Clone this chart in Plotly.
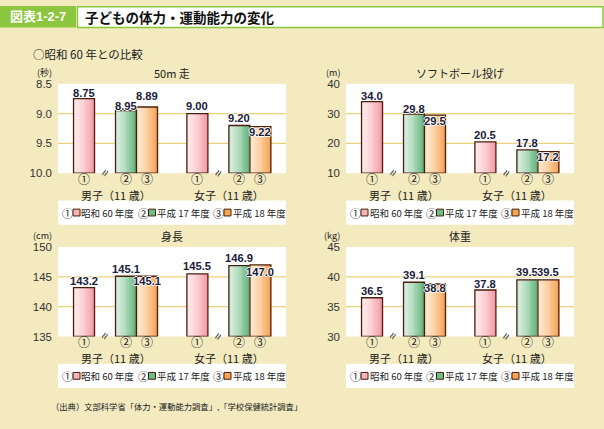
import plotly.graph_objects as go

W, H = 604, 429

# ---------------- data ----------------
groups = ["男子（11 歳）", "女子（11 歳）"]
series_names = ["昭和 60 年度", "平成 17 年度", "平成 18 年度"]
circled = ["①", "②", "③"]

run50_boys = [8.75, 8.95, 8.89]
run50_girls = [9.00, 9.20, 9.22]
softball_boys = [34.0, 29.8, 29.5]
softball_girls = [20.5, 17.8, 17.2]
height_boys = [143.2, 145.1, 145.1]
height_girls = [145.5, 146.9, 147.0]
weight_boys = [36.5, 39.1, 38.8]
weight_girls = [37.8, 39.5, 39.5]

run50_ticks = [8.5, 9.0, 9.5, 10.0]
softball_ticks = [10, 20, 30, 40]
height_ticks = [135, 140, 145, 150]
weight_ticks = [30, 35, 40, 45]

# ---------------- style ----------------
BG = "#f3eabf"
GREEN = "#8cc63e"
GRID = "#ebd27a"
EDGE = "#4a1e0a"
TXT = "#222222"
VAL = "#1b1b3b"
JP = "Noto Sans CJK JP"
LAT = "Liberation Sans, Noto Sans CJK JP"

grad = [((255, 233, 233), (242, 150, 165)),
        ((216, 238, 222), (88, 176, 116)),
        ((254, 232, 206), (245, 158, 78))]
legend_fill = ["#f6b2bb", "#6dbd86", "#f6a552"]

slot = [0, 2, 3]
group_gap = 5.4
XR = [-1.24, 9.62]

def X(px):
    return px / W

def Y(py):
    return 1 - py / H

panels = [
    dict(title="50m 走", unit="(秒)", boys=run50_boys, girls=run50_girls, ticks=run50_ticks,
         rng=[10.0, 8.5], base=10.0, dec=2, fmt=["8.5", "9.0", "9.5", "10.0"],
         x0=58, x1=286, y0=80, y1=172, shifts=[6, 5, 11, 8, 7, -5]),
    dict(title="ソフトボール投げ", unit="(m)", boys=softball_boys, girls=softball_girls, ticks=softball_ticks,
         rng=[10, 40], base=10, dec=1, fmt=None,
         x0=346, x1=574, y0=80, y1=172, shifts=[6, 5, -6, 7, 7, -5]),
    dict(title="身長", unit="(cm)", boys=height_boys, girls=height_girls, ticks=height_ticks,
         rng=[135, 150], base=135, dec=1, fmt=None,
         x0=58, x1=286, y0=248, y1=340, shifts=[7, 7, -5, 8, 8, -7]),
    dict(title="体重", unit="(kg)", boys=weight_boys, girls=weight_girls, ticks=weight_ticks,
         rng=[30, 45], base=30, dec=1, fmt=None,
         x0=346, x1=574, y0=248, y1=340, shifts=[7, 7, -4, 6, 8, 8]),
]

fig = go.Figure()
shapes = []
ann = []

def pann(px, py, text, size, family=JP, color=TXT, xanchor="center"):
    ann.append(dict(x=X(px), y=Y(py), xref="paper", yref="paper", text=text, showarrow=False,
                    xanchor=xanchor, yanchor="middle", borderpad=0,
                    font=dict(family=family, size=size, color=color)))

N = 12
for i, p in enumerate(panels):
    sfx = "" if i == 0 else str(i + 1)
    xa, ya = "x" + sfx, "y" + sfx
    base = p["base"]
    for s in range(3):
        xs = [g * group_gap + slot[s] for g in range(2)]
        vals = [p["boys"][s], p["girls"][s]]
        ys = [v - base for v in vals]
        c0, c1 = grad[s]
        for k in range(N):
            t = ((k + 0.5) / N) ** 1.6
            col = "rgb(%d,%d,%d)" % tuple(round(c0[j] + (c1[j] - c0[j]) * t) for j in range(3))
            fig.add_trace(go.Bar(x=xs, y=ys, base=base, width=1.0 / N + 0.005, offset=-0.5 + k / N,
                                 marker=dict(color=col, line=dict(width=0)),
                                 xaxis=xa, yaxis=ya, hoverinfo="skip", showlegend=False))
        fig.add_trace(go.Bar(x=xs, y=ys, base=base, width=1.0, offset=-0.5,
                             marker=dict(color="rgba(0,0,0,0)", line=dict(color=EDGE, width=1.3)),
                             xaxis=xa, yaxis=ya, hoverinfo="skip", showlegend=False))
        for g in range(2):
            ann.append(dict(x=xs[g], y=vals[g], xref=xa, yref=ya,
                            text=f"<b>{vals[g]:.{p['dec']}f}</b>", showarrow=False,
                            yshift=p["shifts"][g * 3 + s], xanchor="center", yanchor="middle",
                            borderpad=0,
                            font=dict(family=LAT, size=11.2, color=VAL,
                                      shadow="1px 0px 0px white, -1px 0px 0px white, 0px 1px 0px white, 0px -1px 0px white")))
            ann.append(dict(x=xs[g], y=0, xref=xa, yref=ya + " domain", text=circled[s],
                            showarrow=False, xanchor="center", yanchor="middle", yshift=-5,
                            borderpad=0, font=dict(family=JP, size=12, color=TXT)))
    for g in range(2):
        ann.append(dict(x=g * group_gap + 1, y=0, xref=xa, yref=ya + " domain", text="≈",
                        textangle=-62, showarrow=False, xanchor="center", yanchor="middle", yshift=0,
                        font=dict(family=LAT, size=12, color=TXT)))
        ann.append(dict(x=g * group_gap + 1.5, y=0, xref=xa, yref=ya + " domain", text=groups[g],
                        showarrow=False, xanchor="center", yanchor="middle", yshift=-22,
                        borderpad=0, font=dict(family=JP, size=11, color=TXT)))
    for tv in p["ticks"][1:-1]:
        shapes.append(dict(type="line", xref=xa + " domain", yref=ya, x0=0, x1=1, y0=tv, y1=tv,
                           line=dict(color=GRID, width=1.2), layer="below"))
    fig.update_layout(**{
        ("xaxis" + sfx): dict(domain=[X(p["x0"]), X(p["x1"])], range=XR, visible=False, anchor=ya),
        ("yaxis" + sfx): dict(domain=[Y(p["y1"]), Y(p["y0"])], range=p["rng"], anchor=xa,
                              tickvals=p["ticks"],
                              ticktext=p["fmt"] if p["fmt"] else [str(t) for t in p["ticks"]],
                              showgrid=False, zeroline=False, showline=False, ticks="",
                              ticklabelstandoff=5,
                              tickfont=dict(family=LAT, size=11.5, color="#333333")),
    })
    pann((p["x0"] + p["x1"]) / 2, p["y0"] - 11, p["title"], 11)
    pann(p["x0"] - 5, p["y0"] - 12, p["unit"], 9, xanchor="right")
    ly0 = p["y1"] + 28
    ly1 = ly0 + 25
    shapes.append(dict(type="rect", xref="paper", yref="paper", x0=X(p["x0"]), x1=X(p["x1"]),
                       y0=Y(ly1), y1=Y(ly0), fillcolor="white", line=dict(width=0), layer="below"))
    lc = (ly0 + ly1) / 2
    for s in range(3):
        bx = p["x0"] + 3 + s * 75.5
        pann(bx, lc, circled[s], 11, xanchor="left")
        shapes.append(dict(type="rect", xref="paper", yref="paper", x0=X(bx + 12), x1=X(bx + 19),
                           y0=Y(lc + 3.5), y1=Y(lc - 3.5), fillcolor=legend_fill[s],
                           line=dict(color=EDGE, width=1)))
        pann(bx + 19.5, lc, series_names[s], 9.5, xanchor="left")

# header
shapes.append(dict(type="rect", xref="paper", yref="paper", x0=X(0), x1=X(76), y0=Y(22), y1=Y(0),
                   fillcolor=GREEN, line=dict(width=0)))
shapes.append(dict(type="rect", xref="paper", yref="paper", x0=X(77.5), x1=X(603), y0=Y(22), y1=Y(0.8),
                   fillcolor="white", line=dict(color=GREEN, width=1.5)))
pann(38, 11, "<b>図表1-2-7</b>", 13, family=LAT, color="white")
pann(84, 11, "<b>子どもの体力・運動能力の変化</b>", 13.5, color="#111111", xanchor="left")
pann(32, 49, "○昭和 60 年との比較", 11.5, xanchor="left")
pann(50, 411, "（出典）文部科学省「体力・運動能力調査」,「学校保健統計調査」", 8.3, xanchor="left")

fig.update_layout(width=W, height=H, margin=dict(l=0, r=0, t=0, b=0),
                  paper_bgcolor=BG, plot_bgcolor="white", barmode="overlay",
                  shapes=shapes, annotations=ann, showlegend=False)

fig.write_html("out.html", config={"displayModeBar": False},
               post_script="document.body.style.margin='0';document.body.style.overflow='hidden';")
